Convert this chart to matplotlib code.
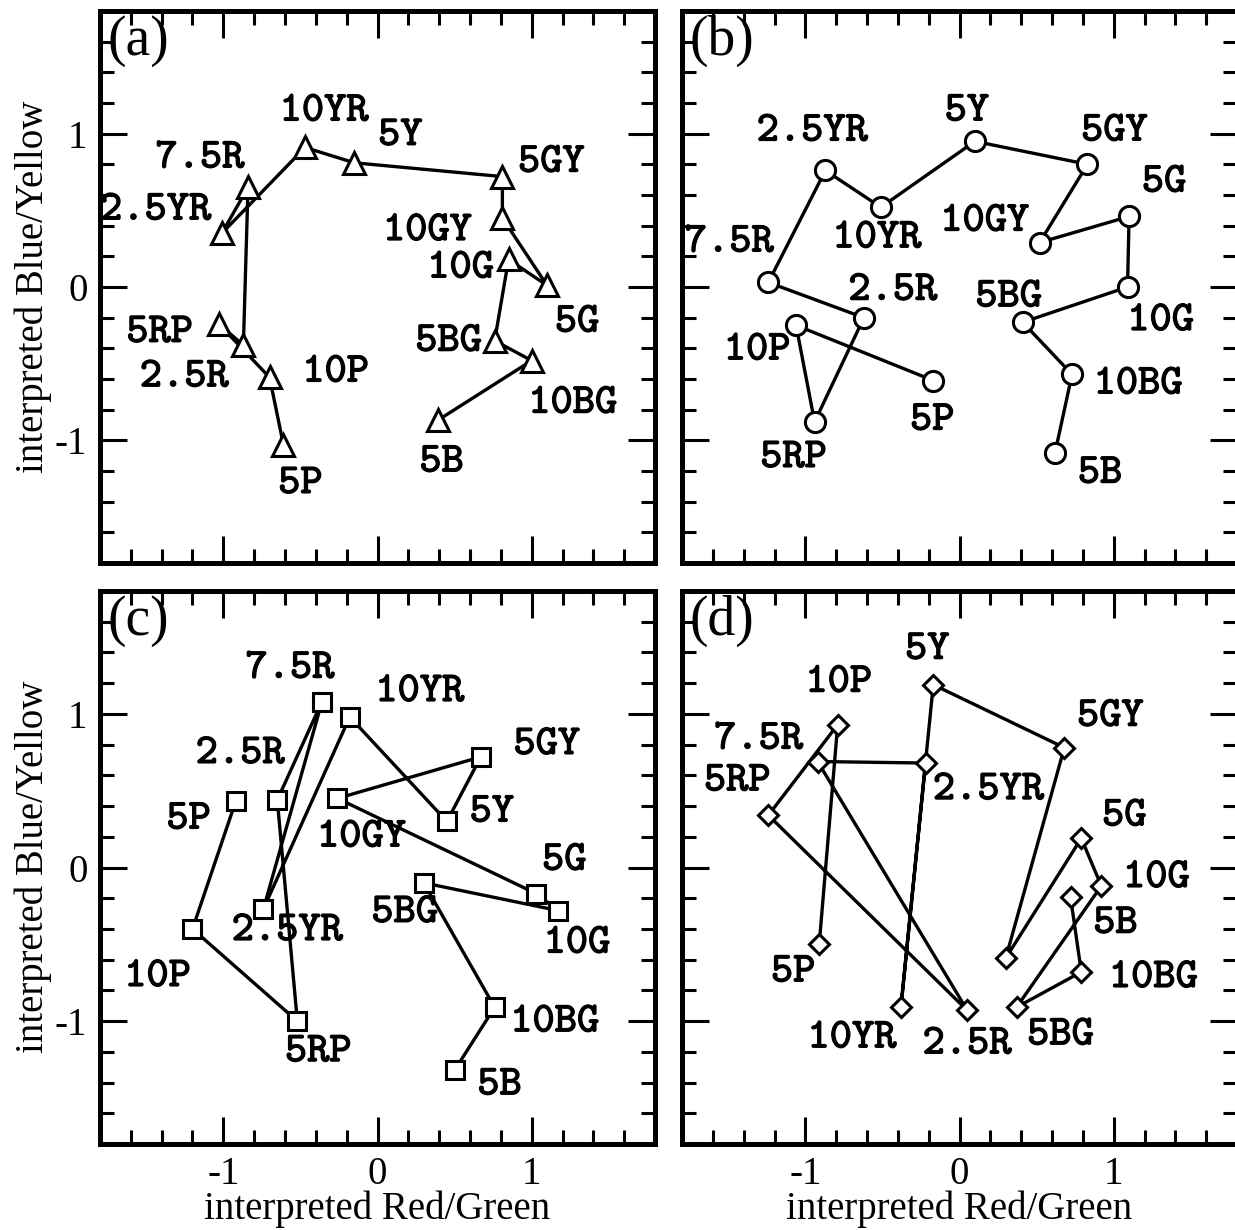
import matplotlib
matplotlib.use('Agg')
import matplotlib.pyplot as plt
from matplotlib.ticker import MultipleLocator, FixedLocator
import matplotlib.patheffects as pe

plt.rcParams['axes.unicode_minus'] = False

# ---------------- data ----------------
hues = ['5P', '10P', '5RP', '2.5R', '7.5R', '2.5YR', '10YR', '5Y',
        '5GY', '10GY', '5G', '10G', '5BG', '10BG', '5B']

a_x = [-0.61, -0.70, -1.03, -0.87, -0.84, -1.01, -0.47, -0.15,
       0.81, 0.81, 1.10, 0.85, 0.76, 1.00, 0.39]
a_y = [-1.03, -0.59, -0.24, -0.38, 0.65, 0.35, 0.91, 0.81,
       0.72, 0.45, 0.01, 0.18, -0.35, -0.48, -0.87]

b_x = [-0.17, -1.06, -0.94, -0.62, -1.24, -0.87, -0.51, 0.10,
       0.83, 0.52, 1.10, 1.09, 0.41, 0.73, 0.62]
b_y = [-0.61, -0.25, -0.88, -0.20, 0.03, 0.76, 0.52, 0.95,
       0.80, 0.29, 0.46, 0.00, -0.23, -0.57, -1.08]

c_x = [-0.92, -1.20, -0.52, -0.65, -0.36, -0.74, -0.18, 0.45,
       0.67, -0.26, 1.03, 1.17, 0.30, 0.76, 0.50]
c_y = [0.43, -0.40, -1.00, 0.44, 1.08, -0.27, 0.98, 0.30,
       0.72, 0.45, -0.17, -0.28, -0.10, -0.91, -1.32]

d_x = [-0.91, -0.79, -1.24, 0.05, -0.92, -0.22, -0.38, -0.17,
       0.68, 0.30, 0.79, 0.92, 0.37, 0.79, 0.72]
d_y = [-0.50, 0.93, 0.34, -0.93, 0.69, 0.68, -0.91, 1.19,
       0.78, -0.59, 0.19, -0.12, -0.91, -0.68, -0.19]

panel_names = ['(a)', '(b)', '(c)', '(d)']
tick_values = [-1, 0, 1]
tick_labels = ['-1', '0', '1']
xlabel = 'interpreted Red/Green'
ylabel = 'interpreted Blue/Yellow'

# ---------------- label offsets (pixels, x right / y up) ----------------
off_a = {'5P': (17, -40), '10P': (66, 4), '5RP': (-59, -10), '2.5R': (-59, -33),
         '7.5R': (-48, 28), '2.5YR': (-66, 22), '10YR': (19, 35), '5Y': (46, 26),
         '5GY': (49, 13), '10GY': (-75, -14), '5G': (30, -38), '10G': (-48, -10),
         '5BG': (-46, -2), '10BG': (41, -44), '5B': (4, -43)}
off_b = {'5P': (-1, -41), '10P': (-39, -26), '5RP': (-21, -37), '2.5R': (29, 26),
         '7.5R': (-39, 39), '2.5YR': (-13, 38), '10YR': (-4, -32), '5Y': (-8, 29),
         '5GY': (27, 32), '10GY': (-55, 20), '5G': (35, 33), '10G': (33, -35),
         '5BG': (-14, 24), '10BG': (66, -11), '5B': (45, -22)}
off_c = {'5P': (-47, -19), '10P': (-35, -49), '5RP': (21, -32), '2.5R': (-37, 45),
         '7.5R': (-32, 32), '2.5YR': (24, -23), '10YR': (70, 24), '5Y': (45, 8),
         '5GY': (66, 11), '10GY': (24, -40), '5G': (28, 32), '10G': (19, -34),
         '5BG': (-19, -31), '10BG': (60, -16), '5B': (45, -16)}
off_d = {'5P': (-26, -29), '10P': (1, 41), '5RP': (-31, 33), '2.5R': (0, -35),
         '7.5R': (-59, 21), '2.5YR': (63, -28), '10YR': (-49, -32), '5Y': (-6, 34),
         '5GY': (46, 30), '5G': (43, 21), '10G': (55, 7),
         '5BG': (44, -29), '10BG': (72, -7), '5B': (45, -28)}

W, H = 1235, 1230
fig = plt.figure(figsize=(W / 100, H / 100), dpi=100)

serif = 'Liberation Serif'
mono = 'cmtt10'

# axes rectangles in pixels: left, top, right, bottom
rects = [(100, 11, 655, 563), (682, 11, 1237, 563),
         (100, 591, 655, 1144), (682, 591, 1237, 1144)]

panels = [(a_x, a_y, '^', 16, off_a), (b_x, b_y, 'o', 14.5, off_b),
          (c_x, c_y, 's', 12.5, off_c), (d_x, d_y, 'D', 10.5, off_d)]

for i, ((l, t, r, b), (xs, ys, mk, ms, offs)) in enumerate(zip(rects, panels)):
    ax = fig.add_axes([l / W, 1 - b / H, (r - l) / W, (b - t) / H])
    ax.set_xlim(-1.8, 1.8)
    ax.set_ylim(-1.8, 1.8)
    ax.plot(xs, ys, color='black', lw=2.4, marker=mk, ms=ms,
            mfc='white', mec='black', mew=2.2, zorder=3, clip_on=False)
    for h, x, y in zip(hues, xs, ys):
        if h in offs:
            dx, dy = offs[h]
            ax.annotate(h, (x, y), xytext=(dx, dy), textcoords='offset pixels',
                        ha='center', va='center', fontsize=30.5, family=mono,
                        path_effects=[pe.withStroke(linewidth=0.9, foreground='black')],
                        zorder=4)
    ax.xaxis.set_major_locator(FixedLocator(tick_values))
    ax.yaxis.set_major_locator(FixedLocator(tick_values))
    ax.xaxis.set_minor_locator(MultipleLocator(0.2))
    ax.yaxis.set_minor_locator(MultipleLocator(0.2))
    ax.tick_params(which='both', direction='in', top=True, right=True,
                   bottom=True, left=True, width=2.2, color='black')
    ax.tick_params(which='major', length=19.5, pad=9)
    ax.tick_params(which='minor', length=10)
    if i in (0, 2):
        ax.set_yticklabels(tick_labels, fontsize=28, family=serif)
    else:
        ax.set_yticklabels([])
    if i in (2, 3):
        ax.set_xticklabels(tick_labels, fontsize=28, family=serif)
    else:
        ax.set_xticklabels([])
    for s in ax.spines.values():
        s.set_linewidth(3.6)
    ax.text(0.014, 0.993, panel_names[i], transform=ax.transAxes,
            ha='left', va='top', fontsize=40, family=serif)

# axis titles
for cy in (287, 867):
    fig.text(33 / W, 1 - cy / H, ylabel, rotation=90, ha='center', va='center',
             fontsize=28, family=serif)
for cx in (377, 959):
    fig.text(cx / W, 1 - 1209 / H, xlabel, ha='center', va='center',
             fontsize=28, family=serif)

fig.savefig('out.png', dpi=100)
